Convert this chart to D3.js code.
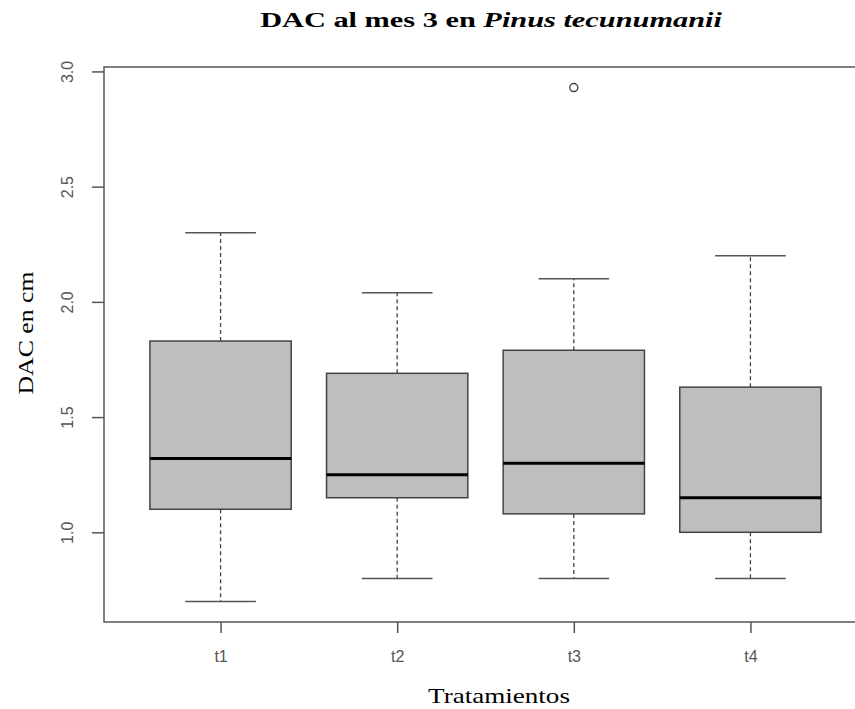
<!DOCTYPE html>
<html lang="es">
    <head>
        <meta charset="utf-8">
        <title>DAC al mes 3</title>
        <script src="https://d3js.org/d3.v7.min.js"></script>
        <style type="text/css">
            body { margin: 0; background: #fff; }
            svg { display: block; }

            .axis path { display: none; }
            .axis line { stroke: #555; stroke-width: 1.5px; }
            .axis text {
                font-family: "Liberation Sans", Arial, sans-serif;
                font-size: 16px;
                fill: #555;
            }

            .frame { fill: none; stroke: #555; stroke-width: 1.5px; }
            .box { fill: #bebebe; stroke: #444; stroke-width: 1.5px; }
            .median { stroke: #000; stroke-width: 3px; }
            .whisker { stroke: #444; stroke-width: 1.3px; stroke-dasharray: 4 3; }
            .cap { stroke: #555; stroke-width: 1.5px; }
            .outlier { fill: none; stroke: #444; stroke-width: 1.4px; }
            .label { font-family: "Liberation Serif", "Times New Roman", serif; fill: #000; }
        </style>
    </head>
    <body>
        <script type="text/javascript">

            // box stats
            const categories = ["t1", "t2", "t3", "t4"];
            const lowWhisker = [0.70, 0.80, 0.80, 0.80];
            const q1 = [1.10, 1.15, 1.08, 1.00];
            const medians = [1.32, 1.25, 1.30, 1.15];
            const q3 = [1.83, 1.69, 1.79, 1.63];
            const highWhisker = [2.30, 2.04, 2.10, 2.20];
            const outliers = [[], [], [2.93], []];
            const yTicks = [1.0, 1.5, 2.0, 2.5, 3.0];

            const w = 855;
            const h = 709;
            // plot frame runs past the right edge of the picture
            const plotLeft = 104, plotRight = 867, plotTop = 67, plotBottom = 622;

            const svg = d3.select("body").append("svg").attr("width", w).attr("height", h);

            // R style 4% padding on the data range
            const allVals = lowWhisker.concat(highWhisker, outliers.flat());
            const ext = d3.extent(allVals);
            const pad = (ext[1] - ext[0]) * 0.04;

            const xScale = d3.scalePoint().domain(categories).range([plotLeft, plotRight]).padding(0.66);
            const yScale = d3.scaleLinear().domain([ext[0] - pad, ext[1] + pad]).range([plotBottom, plotTop]);

            const step = xScale.step();
            const boxW = step * 0.8;
            const capW = boxW / 2;

            const stats = categories.map((c, i) => ({
                cat: c, lo: lowWhisker[i], q1: q1[i], med: medians[i], q3: q3[i], hi: highWhisker[i], out: outliers[i]
            }));

            const g = svg.selectAll(".group")
                .data(stats)
                .enter().append("g")
                .attr("class", "group");

            // whiskers
            g.append("line").attr("class", "whisker")
                .attr("x1", d => xScale(d.cat)).attr("x2", d => xScale(d.cat))
                .attr("y1", d => yScale(d.q3)).attr("y2", d => yScale(d.hi));
            g.append("line").attr("class", "whisker")
                .attr("x1", d => xScale(d.cat)).attr("x2", d => xScale(d.cat))
                .attr("y1", d => yScale(d.q1)).attr("y2", d => yScale(d.lo));

            g.append("line").attr("class", "cap")
                .attr("x1", d => xScale(d.cat) - capW / 2).attr("x2", d => xScale(d.cat) + capW / 2)
                .attr("y1", d => yScale(d.hi)).attr("y2", d => yScale(d.hi));
            g.append("line").attr("class", "cap")
                .attr("x1", d => xScale(d.cat) - capW / 2).attr("x2", d => xScale(d.cat) + capW / 2)
                .attr("y1", d => yScale(d.lo)).attr("y2", d => yScale(d.lo));

            g.append("rect").attr("class", "box")
                .attr("x", d => xScale(d.cat) - boxW / 2)
                .attr("width", boxW)
                .attr("y", d => yScale(d.q3))
                .attr("height", d => yScale(d.q1) - yScale(d.q3));

            g.append("line").attr("class", "median")
                .attr("x1", d => xScale(d.cat) - boxW / 2).attr("x2", d => xScale(d.cat) + boxW / 2)
                .attr("y1", d => yScale(d.med)).attr("y2", d => yScale(d.med));

            g.selectAll(".outlier")
                .data(d => d.out.map(v => ({cat: d.cat, v: v})))
                .enter().append("circle")
                .attr("class", "outlier")
                .attr("cx", d => xScale(d.cat))
                .attr("cy", d => yScale(d.v))
                .attr("r", 4);

            svg.append("rect").attr("class", "frame")
                .attr("x", plotLeft).attr("y", plotTop)
                .attr("width", plotRight - plotLeft).attr("height", plotBottom - plotTop);

            const leftAxis = d3.axisLeft(yScale).tickValues(yTicks).tickFormat(d3.format(".1f")).tickSize(12).tickSizeOuter(0);
            svg.append("g")
                .attr("class", "axis")
                .attr("transform", "translate(" + plotLeft + ",0)")
                .call(leftAxis)
                .selectAll("text")
                .attr("x", null).attr("dy", null)
                .attr("text-anchor", "middle")
                .attr("transform", "translate(-31,0) rotate(-90)");

            const bottomAxis = d3.axisBottom(xScale).tickSize(11).tickSizeOuter(0);
            svg.append("g")
                .attr("class", "axis")
                .attr("transform", "translate(0," + plotBottom + ")")
                .call(bottomAxis)
                .selectAll("text")
                .attr("y", 40).attr("dy", null);

            // stretch a label along its own direction to the width seen in the picture
            function fit(sel, target) {
                return target / sel.node().getComputedTextLength();
            }

            const title = svg.append("text")
                .attr("class", "label")
                .attr("text-anchor", "middle")
                .style("font-size", "21px")
                .style("font-weight", "bold");
            title.append("tspan").text("DAC al mes 3 en ");
            title.append("tspan").style("font-style", "italic").text("Pinus tecunumanii");
            title.attr("transform", "translate(491,27) scale(" + fit(title, 462) + ",1)");

            const xLabel = svg.append("text")
                .attr("class", "label")
                .attr("text-anchor", "middle")
                .style("font-size", "21px")
                .text("Tratamientos");
            xLabel.attr("transform", "translate(499,703) scale(" + fit(xLabel, 142) + ",1)");

            const yLabel = svg.append("text")
                .attr("class", "label")
                .attr("text-anchor", "middle")
                .style("font-size", "21px")
                .text("DAC en cm");
            yLabel.attr("transform", "translate(33,333) rotate(-90) scale(" + fit(yLabel, 123) + ",1)");

        </script>
    </body>
</html>
